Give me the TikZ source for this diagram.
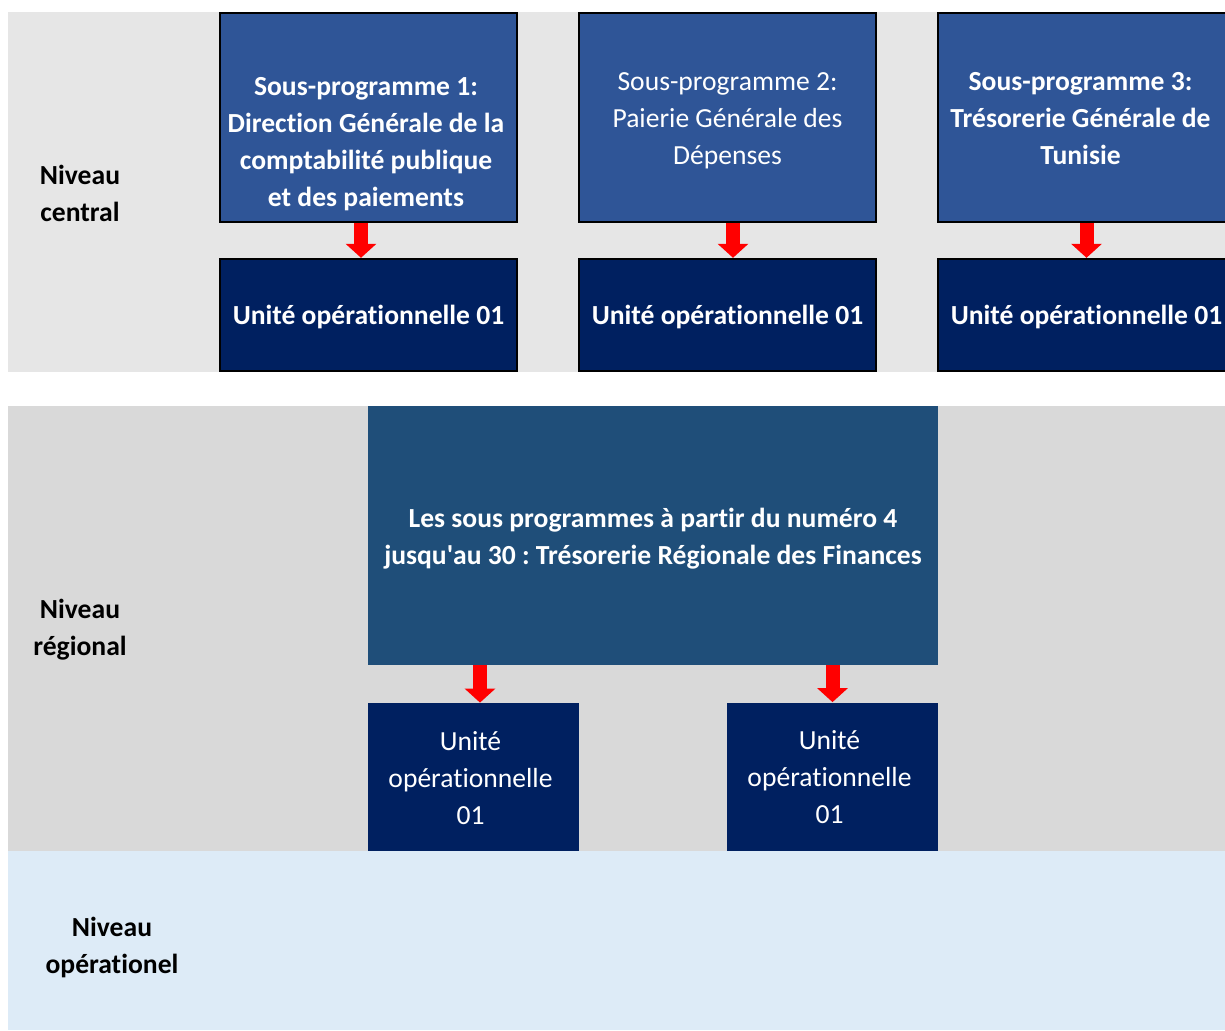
\documentclass[tikz,border=0pt]{standalone}
\usepackage{fontspec}
\setmainfont{Carlito}[Ligatures=NoCommon]
\frenchspacing
\usetikzlibrary{arrows.meta}

\definecolor{bandgrey}{HTML}{E6E6E6}
\definecolor{bandregion}{HTML}{D9D9D9}
\definecolor{bandop}{HTML}{DDEBF7}
\definecolor{spblue}{HTML}{2F5597}
\definecolor{uonavy}{HTML}{002060}
\definecolor{regblue}{HTML}{1F4E79}

\begin{document}
\begin{tikzpicture}[x=0.5pt, y=-0.5pt,
    font=\fontsize{13.8}{18.5}\selectfont,
    spbox/.style = {draw=black, line width=1.2pt, fill=spblue,
        minimum width=148.5pt, minimum height=104.5pt, inner sep=0pt},
    uobox/.style = {draw=black, line width=1.2pt, fill=uonavy,
        minimum width=148.5pt, minimum height=56pt, inner sep=0pt},
    regbox/.style = {fill=regblue, minimum width=285pt, minimum height=129.5pt, inner sep=0pt},
    ruobox/.style = {fill=uonavy, minimum width=105.5pt, minimum height=74pt, inner sep=0pt},
    intext/.style = {text=white, align=center, inner sep=0pt},
    inbold/.style = {intext, font=\fontsize{13.8}{18.5}\selectfont\bfseries},
    level/.style = {align=center, font=\fontsize{13.8}{18.5}\selectfont\bfseries},
    flow/.style = {draw=red, line width=7pt, -{Triangle[width=15pt,length=7pt]}}]
    \useasboundingbox (0,0) rectangle (1225,1030);
    \clip (0,0) rectangle (1225,1030);

    % bands
    \fill[bandgrey] (8,12) rectangle (1225,372);
    \fill[bandregion] (8,406) rectangle (1225,851);
    \fill[bandop] (8,851) rectangle (1225,1030);

    \node[level] (central) at (80,193) {Niveau\\ central};
    \node[level] (regional) at (80,630) {Niveau\\ régional};
    \node[level] (operat) at (112,947) {Niveau\\ opérationel};

    % central level
    \node[spbox] (sp1) at (368.5,117.5) {};
    \node[spbox] (sp2) at (727.5,117.5) {};
    \node[spbox] (sp3) at (1086.5,117.5) {};
    \node[uobox] (uo1) at (368.5,315) {};
    \node[uobox] (uo2) at (727.5,315) {};
    \node[uobox] (uo3) at (1086.5,315) {};

    \node[inbold] (sp1txt) at ([xshift=-1.25pt,yshift=-13.25pt]sp1.center)
        {Sous-programme 1:\\ Direction Générale de la\\ comptabilité publique\\ et des paiements};
    \node[intext] (sp2txt) at ([yshift=-1.75pt]sp2.center) {Sous-programme 2:\\ Paierie Générale des\\ Dépenses};
    \node[inbold] (sp3txt) at ([xshift=-3pt,yshift=-0.75pt]sp3.center)
        {Sous-programme 3:\\ Trésorerie Générale de\\ Tunisie};
    \foreach \u in {uo1,uo2,uo3}
        \node[inbold] (\u txt) at ([yshift=-1pt]\u.center) {Unité opérationnelle 01};

    \draw[flow] ([xshift=-3.75pt]sp1.south) -- ([xshift=-3.75pt]uo1.north);
    \draw[flow] ([xshift=2.75pt]sp2.south) -- ([xshift=2.75pt]uo2.north);
    \draw[flow] (sp3.south) -- (uo3.north);

    % regional level
    \node[regbox] (treg) at (653,535.5) {};
    \node[ruobox] (ruo1) at (473.5,777) {};
    \node[ruobox] (ruo2) at (832.5,776.5) {};

    \node[inbold] (tregtxt) at ([yshift=-1.75pt]treg.center)
        {Les sous programmes à partir du numéro 4\\ jusqu\textquotesingle au 30 : Trésorerie Régionale des Finances};
    \node[intext] (ruo1txt) at ([xshift=-1.5pt,yshift=-0.5pt]ruo1.center) {Unité\\ opérationnelle\\ 01};
    \node[intext] (ruo2txt) at ([xshift=-1.5pt,yshift=-0.5pt]ruo2.center) {Unité\\ opérationnelle\\ 01};

    \draw[flow] ([xshift=3.25pt]treg.south -| ruo1.north) -- ([xshift=3.25pt]ruo1.north);
    \draw[flow] (treg.south -| ruo2.north) -- (ruo2.north);

\end{tikzpicture}
\end{document}
